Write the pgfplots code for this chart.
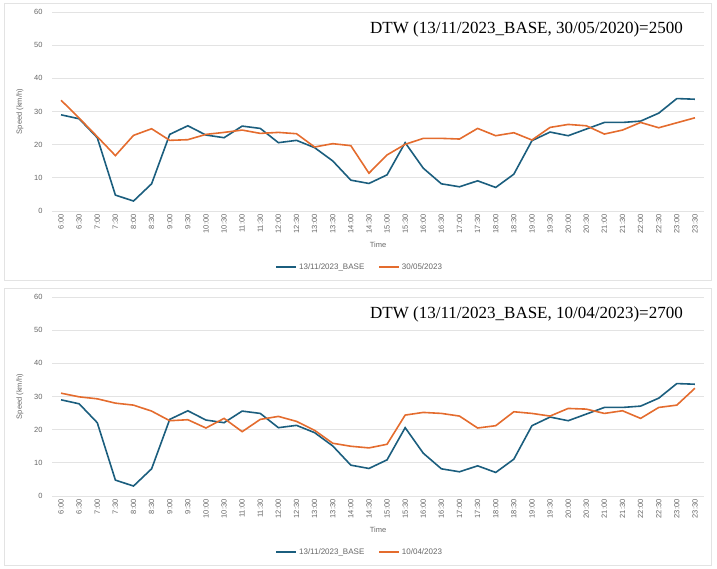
\documentclass[border=0pt]{standalone}
\usepackage{fontspec}
\setmainfont{Liberation Sans}
\newfontfamily\titlefont{Liberation Serif}
\usepackage{pgfplots}
\pgfplotsset{compat=1.18}
\usepackage{pgfplotstable}

\definecolor{baseblue}{HTML}{1B5E7E}
\definecolor{orng}{HTML}{E46C2E}
\definecolor{gridc}{HTML}{E3E3E3}
\definecolor{labc}{HTML}{666666}

\pgfplotstableread{
idx base may apr
0 29.0 33.4 31.0
1 27.8 28.0 29.9
2 22.1 22.4 29.3
3 4.8 16.7 28.0
4 3.0 22.8 27.4
5 8.2 24.8 25.6
6 23.1 21.3 22.7
7 25.7 21.5 23.0
8 22.9 23.1 20.5
9 22.1 23.7 23.4
10 25.6 24.4 19.4
11 24.9 23.4 23.1
12 20.6 23.7 24.0
13 21.3 23.3 22.5
14 19.1 19.3 19.8
15 15.1 20.3 15.9
16 9.3 19.7 15.0
17 8.3 11.4 14.5
18 10.9 16.9 15.6
19 20.6 20.1 24.4
20 12.9 21.9 25.2
21 8.2 21.9 24.9
22 7.3 21.7 24.1
23 9.1 24.9 20.5
24 7.1 22.7 21.2
25 11.1 23.6 25.4
26 21.2 21.4 24.9
27 23.8 25.2 24.1
28 22.7 26.1 26.4
29 24.7 25.7 26.2
30 26.7 23.2 24.9
31 26.7 24.4 25.7
32 27.1 26.7 23.4
33 29.5 25.1 26.7
34 33.9 26.6 27.4
35 33.7 28.1 32.5
}\speeds

\pgfplotsset{
  panel/.style={
    scale only axis,
    width=652pt, height=199pt,
    anchor=south west,
    xmin=-0.5, xmax=35.5,
    ymin=0, ymax=60,
    ytick={0,10,...,60},
    xtick={0,...,35},
    xticklabels={6:00,6:30,7:00,7:30,8:00,8:30,9:00,9:30,10:00,10:30,11:00,11:30,12:00,12:30,13:00,13:30,14:00,14:30,15:00,15:30,16:00,16:30,17:00,17:30,18:00,18:30,19:00,19:30,20:00,20:30,21:00,21:30,22:00,22:30,23:00,23:30},
    axis line style={draw=none},
    major tick length=0pt,
    ymajorgrids,
    grid style={gridc, line width=0.8pt},
    tick label style={font=\fontsize{7.5}{8}\selectfont, text=labc},
    x tick label style={rotate=90, anchor=east, yshift=0pt},
    yticklabel style={xshift=-6pt},
    /pgf/number format/assume math mode=true,
    xlabel={Time},
    ylabel={Speed (km/h)},
    label style={font=\fontsize{7.5}{8}\selectfont, text=labc},
    xlabel style={at={(axis description cs:0.5,-0.17)}, anchor=center},
    ylabel style={at={(axis description cs:-0.049,0.5)}, anchor=center},
    legend style={at={(0.472,-0.281)}, anchor=center, draw=none, fill=none,
      legend columns=2, font=\fontsize{8}{9}\selectfont, text=labc},
    legend cell align=left,
    /tikz/every even column/.append style={column sep=12pt},
    legend image code/.code={\draw[#1, line width=1.6pt] (0pt,0pt) -- (20pt,0pt);},
  }
}

\begin{document}
\begin{tikzpicture}
\path (0pt,0pt) rectangle (717pt,-569pt);
\draw[gridc, line width=0.8pt] (4pt,-3pt) rectangle (711pt,-280pt);
\draw[gridc, line width=0.8pt] (4pt,-288pt) rectangle (711pt,-565pt);

\begin{axis}[panel, at={(52pt,-211pt)}]
  \addplot[baseblue, line width=1.6pt] table[x=idx, y=base] {\speeds};
  \addlegendentry{13/11/2023\_BASE}
  \addplot[orng, line width=1.6pt] table[x=idx, y=may] {\speeds};
  \addlegendentry{30/05/2023}
  \node[font=\titlefont\fontsize{17}{19}\selectfont] at (axis cs:25.7,54.8)
    {DTW (13/11/2023\_BASE, 30/05/2020)=2500};
\end{axis}

\begin{axis}[panel, at={(52pt,-496pt)}]
  \addplot[baseblue, line width=1.6pt] table[x=idx, y=base] {\speeds};
  \addlegendentry{13/11/2023\_BASE}
  \addplot[orng, line width=1.6pt] table[x=idx, y=apr] {\speeds};
  \addlegendentry{10/04/2023}
  \node[font=\titlefont\fontsize{17}{19}\selectfont] at (axis cs:25.7,54.8)
    {DTW (13/11/2023\_BASE, 10/04/2023)=2700};
\end{axis}
\end{tikzpicture}
\end{document}
